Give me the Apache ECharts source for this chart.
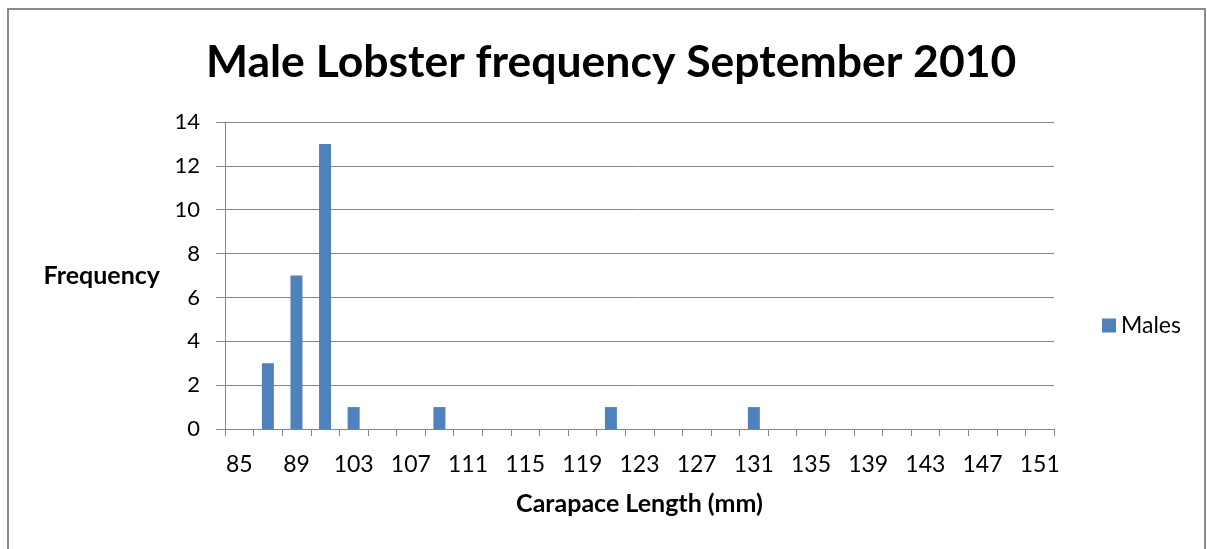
<!DOCTYPE html>
<html>
<head>
<meta charset="utf-8">
<script src="https://cdn.jsdelivr.net/npm/echarts@6/dist/echarts.min.js"></script>
<style>
  html, body { margin: 0; padding: 0; background: #fff; }
  #main { width: 1207px; height: 549px; }
</style>
</head>
<body>
<div id="main"></div>
<script>
// carapace length bins (mm) - only every other one is labelled
var categories = ['85', '87', '89', '101', '103', '105', '107', '109', '111', '113',
  '115', '117', '119', '121', '123', '125', '127', '129', '131', '133',
  '135', '137', '139', '141', '143', '145', '147', '149', '151'];
var males = [0, 3, 7, 13, 1, 0, 0, 1, 0, 0,
  0, 0, 0, 1, 0, 0, 0, 0, 1, 0,
  0, 0, 0, 0, 0, 0, 0, 0, 0];

var FONT = 'Lato, "Open Sans", sans-serif';
var grey = '#868686';

var myChart = echarts.init(document.getElementById('main'));
var option = {
  backgroundColor: '#fff',
  animation: false,
  graphic: [{
    type: 'rect',
    shape: { x: 8, y: 9, width: 1197, height: 560 },
    style: { fill: 'none', stroke: '#8a8a8a', lineWidth: 2 }
  }],
  title: {
    text: 'Male Lobster frequency September 2010',
    left: 201,
    top: 35,
    textStyle: { fontFamily: FONT, fontWeight: 'bold', fontSize: 44.5, color: '#000' }
  },
  legend: {
    data: ['Males'],
    orient: 'vertical',
    left: 1097,
    top: 309,
    itemWidth: 14,
    itemHeight: 14,
    itemGap: 8,
    icon: 'rect',
    textStyle: { fontFamily: FONT, fontSize: 23, color: '#000' }
  },
  grid: { left: 225, right: 153, top: 122, bottom: 120, containLabel: false },
  xAxis: {
    type: 'category',
    data: categories,
    name: 'Carapace Length (mm)',
    nameLocation: 'middle',
    nameGap: 62,
    nameTextStyle: { fontFamily: FONT, fontWeight: 'bold', fontSize: 25, color: '#000' },
    axisLine: { lineStyle: { color: grey, width: 1 } },
    axisTick: { show: true, length: 7, interval: 0, lineStyle: { color: grey } },
    axisLabel: { interval: 1, margin: 24, fontFamily: FONT, fontSize: 23, color: '#000' },
    splitLine: { show: false }
  },
  yAxis: {
    type: 'value',
    min: 0,
    max: 14,
    interval: 2,
    name: 'Frequency',
    nameLocation: 'middle',
    nameRotate: 0,
    nameGap: 65,
    nameTextStyle: { fontFamily: FONT, fontWeight: 'bold', fontSize: 25, color: '#000' },
    axisLine: { show: true, lineStyle: { color: grey, width: 1 } },
    axisTick: { show: true, length: 9, lineStyle: { color: grey } },
    axisLabel: { margin: 25, fontFamily: FONT, fontSize: 22, color: '#000' },
    splitLine: { show: true, lineStyle: { color: grey, width: 1 } }
  },
  series: [{
    name: 'Males',
    type: 'bar',
    data: males,
    barWidth: 12,
    itemStyle: { color: '#4F81BD' }
  }]
};
option && myChart.setOption(option);
</script>
</body>
</html>
